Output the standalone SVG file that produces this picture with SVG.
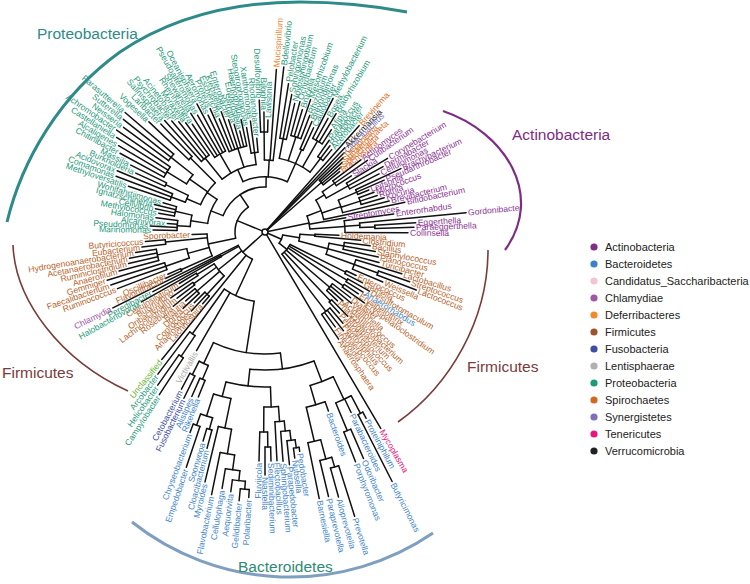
<svg xmlns="http://www.w3.org/2000/svg" width="750" height="584" viewBox="0 0 750 584">
<style>
#labels text{font-family:"Liberation Sans",Arial,sans-serif;font-size:8.6px;dominant-baseline:central}
.f{transform:rotate(180deg);text-anchor:end}
.pr{fill:#1f9a7c}.fi{fill:#b5652c}.ac{fill:#8a3593}.ba{fill:#3f86c8}.de{fill:#ee8733}.sp{fill:#d9702a}
.sy{fill:#7a70b6}.ve{fill:#1a1a1a}.fu{fill:#3a4ba0}.le{fill:#a9a9a9}.te{fill:#e3177f}.ch{fill:#a157a7}.un{fill:#66b52f}
.clade{font-family:"Liberation Sans",Arial,sans-serif;font-size:15.5px}
.leg text{font-family:"Liberation Sans",Arial,sans-serif;font-size:11px;fill:#222}
</style>
<rect width="750" height="584" fill="#fff"/>
<g id="connectors" transform="translate(265 232)" fill="none" stroke="#111" stroke-width="1.5" stroke-linecap="round">
<circle r="3"/>
<path d="M3 0H30" transform="rotate(202.22)"/><circle r="30" pathLength="360" stroke-dasharray="68.195 999" transform="rotate(168.125)"/>
<path d="M30 0H45" transform="rotate(-123.68)"/><circle r="45" pathLength="360" stroke-dasharray="69.84 999" transform="rotate(-158.6)"/>
<path d="M45 0H58" transform="rotate(-158.6)"/><circle r="58" pathLength="360" stroke-dasharray="25.7 999" transform="rotate(-171.45)"/>
<path d="M45 0H55" transform="rotate(-88.76)"/><circle r="55" pathLength="360" stroke-dasharray="47.6 999" transform="rotate(-113.6)"/>
<path d="M58 0H75" transform="rotate(-171.45)"/><circle r="75" pathLength="360" stroke-dasharray="8.875 999" transform="rotate(-175.875)"/>
<path d="M75 0H88" transform="rotate(-175.875)"/><circle r="88" pathLength="360" stroke-dasharray="6.5 999" transform="rotate(-179)"/>
<path d="M88 0H112" transform="rotate(-179)"/><path d="M88 0H115" transform="rotate(-177)"/><path d="M88 0H98" transform="rotate(-175)"/><path d="M88 0H110" transform="rotate(-172.5)"/>
<path d="M75 0H92" transform="rotate(-167)"/><circle r="92" pathLength="360" stroke-dasharray="6 999" transform="rotate(-170)"/>
<path d="M92 0H108" transform="rotate(-170)"/><path d="M92 0H112" transform="rotate(-168)"/><path d="M92 0H114" transform="rotate(-166)"/><path d="M92 0H106" transform="rotate(-164)"/>
<path d="M58 0H70" transform="rotate(-145.75)"/><circle r="70" pathLength="360" stroke-dasharray="21.75 999" transform="rotate(-157)"/>
<path d="M70 0H85" transform="rotate(-157)"/><circle r="85" pathLength="360" stroke-dasharray="5 999" transform="rotate(-159.5)"/>
<path d="M85 0H100" transform="rotate(-159.5)"/><circle r="100" pathLength="360" stroke-dasharray="4 999" transform="rotate(-161.5)"/>
<path d="M100 0H144" transform="rotate(-161.5)"/><path d="M100 0H159" transform="rotate(-159.5)"/><path d="M100 0H160" transform="rotate(-157.5)"/>
<path d="M85 0H110" transform="rotate(-154.5)"/><circle r="110" pathLength="360" stroke-dasharray="2 999" transform="rotate(-155.5)"/>
<path d="M110 0H142" transform="rotate(-155.5)"/><path d="M110 0H150" transform="rotate(-153.5)"/>
<path d="M70 0H92" transform="rotate(-145)"/><circle r="92" pathLength="360" stroke-dasharray="7 999" transform="rotate(-148.5)"/>
<path d="M92 0H115" transform="rotate(-148.5)"/><circle r="115" pathLength="360" stroke-dasharray="6 999" transform="rotate(-151.5)"/>
<path d="M115 0H165" transform="rotate(-151.5)"/><path d="M115 0H170" transform="rotate(-149.5)"/><path d="M115 0H176" transform="rotate(-147.5)"/><path d="M115 0H180" transform="rotate(-145.5)"/>
<path d="M92 0H120" transform="rotate(-141.5)"/><circle r="120" pathLength="360" stroke-dasharray="4 999" transform="rotate(-143.5)"/>
<path d="M120 0H176" transform="rotate(-143.5)"/><path d="M120 0H181" transform="rotate(-141.5)"/><path d="M120 0H184" transform="rotate(-139.5)"/>
<path d="M70 0H105" transform="rotate(-135.25)"/><circle r="105" pathLength="360" stroke-dasharray="2.5 999" transform="rotate(-136.5)"/>
<path d="M105 0H160" transform="rotate(-136.5)"/><path d="M105 0H150" transform="rotate(-134)"/>
<path d="M55 0H68" transform="rotate(-113.6)"/><circle r="68" pathLength="360" stroke-dasharray="31.5 999" transform="rotate(-129)"/>
<path d="M68 0H95" transform="rotate(-129)"/><circle r="95" pathLength="360" stroke-dasharray="6 999" transform="rotate(-132)"/>
<path d="M95 0H150" transform="rotate(-132)"/><path d="M95 0H145" transform="rotate(-130)"/><path d="M95 0H140" transform="rotate(-128)"/><path d="M95 0H135" transform="rotate(-126)"/>
<path d="M68 0H90" transform="rotate(-120)"/><circle r="90" pathLength="360" stroke-dasharray="8 999" transform="rotate(-124)"/>
<path d="M90 0H130" transform="rotate(-124)"/><path d="M90 0H140" transform="rotate(-122)"/><path d="M90 0H135" transform="rotate(-120)"/><path d="M90 0H145" transform="rotate(-118)"/><path d="M90 0H130" transform="rotate(-116)"/>
<path d="M68 0H88" transform="rotate(-108)"/><circle r="88" pathLength="360" stroke-dasharray="12 999" transform="rotate(-114)"/>
<path d="M88 0H135" transform="rotate(-114)"/><path d="M88 0H122" transform="rotate(-112)"/><path d="M88 0H128" transform="rotate(-110)"/><path d="M88 0H118" transform="rotate(-108)"/><path d="M88 0H112" transform="rotate(-106)"/><path d="M88 0H104" transform="rotate(-104)"/><path d="M88 0H115" transform="rotate(-102)"/>
<path d="M68 0H80" transform="rotate(-97.5)"/><circle r="80" pathLength="360" stroke-dasharray="5 999" transform="rotate(-100)"/>
<path d="M80 0H106" transform="rotate(-100)"/><path d="M80 0H112" transform="rotate(-97.5)"/><path d="M80 0H94" transform="rotate(-95)"/>
<path d="M55 0H72" transform="rotate(-86.67)"/><circle r="72" pathLength="360" stroke-dasharray="7 999" transform="rotate(-90.5)"/>
<path d="M72 0H100" transform="rotate(-90.5)"/><circle r="100" pathLength="360" stroke-dasharray="4 999" transform="rotate(-92.5)"/>
<path d="M100 0H132" transform="rotate(-92.5)"/><path d="M100 0H120" transform="rotate(-90.5)"/><path d="M100 0H112" transform="rotate(-88.5)"/>
<path d="M72 0H163" transform="rotate(-86)"/><path d="M72 0H166" transform="rotate(-83.5)"/>
<path d="M55 0H75" transform="rotate(-66)"/><circle r="75" pathLength="360" stroke-dasharray="26 999" transform="rotate(-79)"/>
<path d="M75 0H95" transform="rotate(-79)"/><circle r="95" pathLength="360" stroke-dasharray="4 999" transform="rotate(-81)"/>
<path d="M95 0H150" transform="rotate(-81)"/><path d="M95 0H140" transform="rotate(-79)"/><path d="M95 0H132" transform="rotate(-77)"/>
<path d="M75 0H100" transform="rotate(-72)"/><circle r="100" pathLength="360" stroke-dasharray="6 999" transform="rotate(-75)"/>
<path d="M100 0H135" transform="rotate(-75)"/><path d="M100 0H128" transform="rotate(-73)"/><path d="M100 0H140" transform="rotate(-71)"/><path d="M100 0H125" transform="rotate(-69)"/>
<path d="M75 0H90" transform="rotate(-66)"/><circle r="90" pathLength="360" stroke-dasharray="2 999" transform="rotate(-67)"/>
<path d="M90 0H120" transform="rotate(-67)"/><path d="M90 0H115" transform="rotate(-65)"/>
<path d="M75 0H105" transform="rotate(-60)"/><circle r="105" pathLength="360" stroke-dasharray="6 999" transform="rotate(-63)"/>
<path d="M105 0H150" transform="rotate(-63)"/><path d="M105 0H130" transform="rotate(-61)"/><path d="M105 0H138" transform="rotate(-59)"/><path d="M105 0H122" transform="rotate(-57)"/>
<path d="M75 0H92" transform="rotate(-53)"/><circle r="92" pathLength="360" stroke-dasharray="4 999" transform="rotate(-55)"/>
<path d="M92 0H112" transform="rotate(-55)"/><path d="M92 0H108" transform="rotate(-53)"/><path d="M92 0H106" transform="rotate(-51)"/>
<path d="M30 0H58" transform="rotate(168.125)"/><circle r="58" pathLength="360" stroke-dasharray="22.25 999" transform="rotate(155.75)"/>
<path d="M58 0H92" transform="rotate(155.75)"/><circle r="92" pathLength="360" stroke-dasharray="1.5 999" transform="rotate(155)"/>
<path d="M92 0H110" transform="rotate(155)"/><path d="M92 0H106" transform="rotate(156.5)"/>
<path d="M58 0H80" transform="rotate(164.5)"/><circle r="80" pathLength="360" stroke-dasharray="7 999" transform="rotate(161)"/>
<path d="M80 0H105" transform="rotate(161)"/><circle r="105" pathLength="360" stroke-dasharray="4 999" transform="rotate(159)"/>
<path d="M105 0H158" transform="rotate(159)"/><path d="M105 0H163" transform="rotate(161)"/><path d="M105 0H165" transform="rotate(163)"/>
<path d="M80 0H110" transform="rotate(168)"/><circle r="110" pathLength="360" stroke-dasharray="6 999" transform="rotate(165)"/>
<path d="M110 0H151" transform="rotate(165)"/><path d="M110 0H140" transform="rotate(167)"/><path d="M110 0H138" transform="rotate(169)"/><path d="M110 0H131" transform="rotate(171)"/>
<path d="M58 0H100" transform="rotate(174.25)"/><circle r="100" pathLength="360" stroke-dasharray="2.5 999" transform="rotate(173)"/>
<path d="M100 0H124" transform="rotate(173)"/><path d="M100 0H120" transform="rotate(175.5)"/>
<path d="M58 0H73" transform="rotate(178)"/>
<path d="M3 0H142" transform="rotate(-48.5)"/><path d="M3 0H116" transform="rotate(-46.5)"/><path d="M3 0H112" transform="rotate(-45)"/>
<path d="M3 0H75" transform="rotate(-41.25)"/><circle r="75" pathLength="360" stroke-dasharray="4.5 999" transform="rotate(-43.5)"/>
<path d="M75 0H108" transform="rotate(-43.5)"/><path d="M75 0H104" transform="rotate(-42)"/><path d="M75 0H100" transform="rotate(-40.5)"/><path d="M75 0H96" transform="rotate(-39)"/>
<path d="M3 0H45" transform="rotate(-11.59)"/><circle r="45" pathLength="360" stroke-dasharray="16.905 999" transform="rotate(-20.83)"/>
<path d="M45 0H60" transform="rotate(-20.83)"/><circle r="60" pathLength="360" stroke-dasharray="20 999" transform="rotate(-32)"/>
<path d="M60 0H70" transform="rotate(-32)"/><circle r="70" pathLength="360" stroke-dasharray="6 999" transform="rotate(-35)"/>
<path d="M70 0H85" transform="rotate(-35)"/><circle r="85" pathLength="360" stroke-dasharray="4 999" transform="rotate(-37)"/>
<path d="M85 0H120" transform="rotate(-37)"/><path d="M85 0H125" transform="rotate(-35)"/><path d="M85 0H103" transform="rotate(-33)"/>
<path d="M70 0H95" transform="rotate(-29)"/><circle r="95" pathLength="360" stroke-dasharray="4 999" transform="rotate(-31)"/>
<path d="M95 0H143" transform="rotate(-31)"/><path d="M95 0H135" transform="rotate(-29)"/><path d="M95 0H128" transform="rotate(-27)"/>
<path d="M60 0H80" transform="rotate(-18.5)"/><circle r="80" pathLength="360" stroke-dasharray="9.5 999" transform="rotate(-23.5)"/>
<path d="M80 0H100" transform="rotate(-23.5)"/><circle r="100" pathLength="360" stroke-dasharray="3 999" transform="rotate(-25)"/>
<path d="M100 0H150" transform="rotate(-25)"/><path d="M100 0H130" transform="rotate(-23.5)"/><path d="M100 0H112" transform="rotate(-22)"/>
<path d="M80 0H100" transform="rotate(-18)"/><circle r="100" pathLength="360" stroke-dasharray="4 999" transform="rotate(-20)"/>
<path d="M100 0H116" transform="rotate(-20)"/><path d="M100 0H118" transform="rotate(-18)"/><path d="M100 0H124" transform="rotate(-16)"/>
<path d="M80 0H128" transform="rotate(-14)"/><path d="M60 0H143" transform="rotate(-12)"/><path d="M45 0H82" transform="rotate(-10)"/>
<path d="M45 0H80" transform="rotate(-3.925)"/><circle r="80" pathLength="360" stroke-dasharray="8.3 999" transform="rotate(-8)"/>
<path d="M80 0H130" transform="rotate(-8)"/>
<path d="M80 0H95" transform="rotate(-4.075)"/><circle r="95" pathLength="360" stroke-dasharray="2.85 999" transform="rotate(-5.5)"/>
<path d="M95 0H202" transform="rotate(-5.5)"/>
<path d="M95 0H110" transform="rotate(-2.65)"/><circle r="110" pathLength="360" stroke-dasharray="1.7 999" transform="rotate(-3.5)"/>
<path d="M110 0H151" transform="rotate(-3.5)"/><path d="M110 0H149" transform="rotate(-1.8)"/>
<path d="M80 0H143" transform="rotate(0.3)"/>
<path d="M3 0H18" transform="rotate(23.94)"/><circle r="18" pathLength="360" stroke-dasharray="29.125 999" transform="rotate(9.375)"/>
<path d="M18 0H35" transform="rotate(9.375)"/><circle r="35" pathLength="360" stroke-dasharray="11.25 999" transform="rotate(3.75)"/>
<path d="M35 0H50" transform="rotate(3.75)"/><circle r="50" pathLength="360" stroke-dasharray="2.5 999" transform="rotate(2.5)"/>
<path d="M50 0H74" transform="rotate(2.5)"/><path d="M50 0H96" transform="rotate(5)"/>
<path d="M35 0H65" transform="rotate(15)"/><circle r="65" pathLength="360" stroke-dasharray="10 999" transform="rotate(10)"/>
<path d="M65 0H80" transform="rotate(10)"/><circle r="80" pathLength="360" stroke-dasharray="5 999" transform="rotate(7.5)"/>
<path d="M80 0H106" transform="rotate(7.5)"/><path d="M80 0H112" transform="rotate(10)"/><path d="M80 0H116" transform="rotate(12.5)"/>
<path d="M65 0H118" transform="rotate(15)"/>
<path d="M65 0H95" transform="rotate(20)"/><circle r="95" pathLength="360" stroke-dasharray="6 999" transform="rotate(17)"/>
<path d="M95 0H143" transform="rotate(17)"/>
<path d="M95 0H120" transform="rotate(20)"/><circle r="120" pathLength="360" stroke-dasharray="2 999" transform="rotate(19)"/>
<path d="M120 0H153" transform="rotate(19)"/><path d="M120 0H162" transform="rotate(21)"/>
<path d="M95 0H128" transform="rotate(23)"/>
<path d="M18 0H28" transform="rotate(38.5)"/><circle r="28" pathLength="360" stroke-dasharray="26 999" transform="rotate(26.5)"/>
<path d="M28 0H90" transform="rotate(26.5)"/><circle r="90" pathLength="360" stroke-dasharray="2 999" transform="rotate(25.5)"/>
<path d="M90 0H101" transform="rotate(25.5)"/><path d="M90 0H110" transform="rotate(27.5)"/>
<path d="M28 0H95" transform="rotate(30.5)"/><circle r="95" pathLength="360" stroke-dasharray="2 999" transform="rotate(29.5)"/>
<path d="M95 0H120" transform="rotate(29.5)"/><path d="M95 0H115" transform="rotate(31.5)"/>
<path d="M28 0H95" transform="rotate(34.5)"/><circle r="95" pathLength="360" stroke-dasharray="2 999" transform="rotate(33.5)"/>
<path d="M95 0H112" transform="rotate(33.5)"/><path d="M95 0H122" transform="rotate(35.5)"/>
<path d="M28 0H85" transform="rotate(40.5)"/><circle r="85" pathLength="360" stroke-dasharray="6 999" transform="rotate(37.5)"/>
<path d="M85 0H108" transform="rotate(37.5)"/><path d="M85 0H112" transform="rotate(39.5)"/><path d="M85 0H104" transform="rotate(41.5)"/><path d="M85 0H100" transform="rotate(43.5)"/>
<path d="M28 0H95" transform="rotate(46.5)"/><circle r="95" pathLength="360" stroke-dasharray="2 999" transform="rotate(45.5)"/>
<path d="M95 0H118" transform="rotate(45.5)"/><path d="M95 0H110" transform="rotate(47.5)"/>
<path d="M28 0H100" transform="rotate(52.5)"/><circle r="100" pathLength="360" stroke-dasharray="6 999" transform="rotate(49.5)"/>
<path d="M100 0H120" transform="rotate(49.5)"/><path d="M100 0H126" transform="rotate(51.5)"/><path d="M100 0H118" transform="rotate(53.5)"/><path d="M100 0H130" transform="rotate(55.5)"/>
<path d="M3 0H228" transform="rotate(59.5)"/>
<path d="M3 0H30" transform="rotate(137.9)"/><circle r="30" pathLength="360" stroke-dasharray="38.71 999" transform="rotate(114.79)"/>
<path d="M30 0H70" transform="rotate(114.79)"/><circle r="70" pathLength="360" stroke-dasharray="26.63 999" transform="rotate(98.87)"/>
<path d="M70 0H122" transform="rotate(98.87)"/><circle r="122" pathLength="360" stroke-dasharray="32.26 999" transform="rotate(82.74)"/>
<path d="M122 0H138" transform="rotate(82.74)"/><circle r="138" pathLength="360" stroke-dasharray="27.1 999" transform="rotate(69.19)"/>
<path d="M138 0H155" transform="rotate(96.29)"/><circle r="155" pathLength="360" stroke-dasharray="16.61 999" transform="rotate(87.98)"/>
<path d="M155 0H170" transform="rotate(104.59)"/><circle r="170" pathLength="360" stroke-dasharray="6.06 999" transform="rotate(101.5625)"/>
<path d="M170 0H193" transform="rotate(107.625)"/><circle r="193" pathLength="360" stroke-dasharray="3.75 999" transform="rotate(105.75)"/>
<path d="M193 0H205" transform="rotate(109.5)"/><circle r="205" pathLength="360" stroke-dasharray="2 999" transform="rotate(108.5)"/>
<path d="M205 0H214" transform="rotate(110.5)"/><path d="M205 0H248" transform="rotate(108.5)"/>
<path d="M193 0H205" transform="rotate(105.75)"/><circle r="205" pathLength="360" stroke-dasharray="1.5 999" transform="rotate(105)"/>
<path d="M205 0H218" transform="rotate(106.5)"/><path d="M205 0H224" transform="rotate(105)"/>
<path d="M170 0H200" transform="rotate(101.5625)"/><circle r="200" pathLength="360" stroke-dasharray="3.875 999" transform="rotate(99.625)"/>
<path d="M200 0H257" transform="rotate(103.5)"/>
<path d="M200 0H225" transform="rotate(99.625)"/><circle r="225" pathLength="360" stroke-dasharray="3.75 999" transform="rotate(97.75)"/>
<path d="M225 0H268" transform="rotate(101.5)"/>
<path d="M225 0H240" transform="rotate(97.75)"/><circle r="240" pathLength="360" stroke-dasharray="3.5 999" transform="rotate(96)"/>
<path d="M240 0H260" transform="rotate(99.5)"/>
<path d="M240 0H250" transform="rotate(96)"/><circle r="250" pathLength="360" stroke-dasharray="3 999" transform="rotate(94.5)"/>
<path d="M250 0H262" transform="rotate(97.5)"/>
<path d="M250 0H258" transform="rotate(94.5)"/><circle r="258" pathLength="360" stroke-dasharray="2 999" transform="rotate(93.5)"/>
<path d="M258 0H270" transform="rotate(95.5)"/><path d="M258 0H266" transform="rotate(93.5)"/>
<path d="M155 0H175" transform="rotate(87.98)"/><circle r="175" pathLength="360" stroke-dasharray="4.781 999" transform="rotate(85.594)"/>
<path d="M175 0H200" transform="rotate(90.375)"/><circle r="200" pathLength="360" stroke-dasharray="2.25 999" transform="rotate(89.25)"/>
<path d="M200 0H229" transform="rotate(91.5)"/>
<path d="M200 0H215" transform="rotate(89.25)"/><circle r="215" pathLength="360" stroke-dasharray="1.5 999" transform="rotate(88.5)"/>
<path d="M215 0H243" transform="rotate(90)"/><path d="M215 0H229" transform="rotate(88.5)"/>
<path d="M175 0H190" transform="rotate(85.594)"/><circle r="190" pathLength="360" stroke-dasharray="2.8125 999" transform="rotate(84.1875)"/>
<path d="M190 0H229" transform="rotate(87)"/>
<path d="M190 0H200" transform="rotate(84.1875)"/><circle r="200" pathLength="360" stroke-dasharray="2.625 999" transform="rotate(82.875)"/>
<path d="M200 0H230" transform="rotate(85.5)"/>
<path d="M200 0H210" transform="rotate(82.875)"/><circle r="210" pathLength="360" stroke-dasharray="2.25 999" transform="rotate(81.75)"/>
<path d="M210 0H234" transform="rotate(84)"/>
<path d="M210 0H218" transform="rotate(81.75)"/><circle r="218" pathLength="360" stroke-dasharray="1.5 999" transform="rotate(81)"/>
<path d="M218 0H228" transform="rotate(82.5)"/><path d="M218 0H222" transform="rotate(81)"/>
<path d="M138 0H160" transform="rotate(69.19)"/><circle r="160" pathLength="360" stroke-dasharray="8.875 999" transform="rotate(64.75)"/>
<path d="M160 0H180" transform="rotate(73.625)"/><circle r="180" pathLength="360" stroke-dasharray="6.25 999" transform="rotate(70.5)"/>
<path d="M180 0H190" transform="rotate(70.5)"/>
<path d="M180 0H215" transform="rotate(76.75)"/><circle r="215" pathLength="360" stroke-dasharray="3.5 999" transform="rotate(75)"/>
<path d="M215 0H272" transform="rotate(78.5)"/>
<path d="M215 0H235" transform="rotate(75)"/><circle r="235" pathLength="360" stroke-dasharray="3 999" transform="rotate(73.5)"/>
<path d="M235 0H272" transform="rotate(76.5)"/>
<path d="M235 0H245" transform="rotate(73.5)"/><circle r="245" pathLength="360" stroke-dasharray="2 999" transform="rotate(72.5)"/>
<path d="M245 0H275" transform="rotate(74.5)"/><path d="M245 0H298" transform="rotate(72.5)"/>
<path d="M160 0H185" transform="rotate(64.75)"/><circle r="185" pathLength="360" stroke-dasharray="5.25 999" transform="rotate(62.25)"/>
<path d="M185 0H215" transform="rotate(67.5)"/><circle r="215" pathLength="360" stroke-dasharray="2 999" transform="rotate(66.5)"/>
<path d="M215 0H247" transform="rotate(68.5)"/><path d="M215 0H247" transform="rotate(66.5)"/>
<path d="M185 0H200" transform="rotate(64.5)"/>
<path d="M185 0H205" transform="rotate(62.25)"/><circle r="205" pathLength="360" stroke-dasharray="1.5 999" transform="rotate(61.5)"/>
<path d="M205 0H280" transform="rotate(63)"/><path d="M205 0H212" transform="rotate(61.5)"/>
<path d="M122 0H145" transform="rotate(115)"/><circle r="145" pathLength="360" stroke-dasharray="4 999" transform="rotate(113)"/>
<path d="M145 0H160" transform="rotate(113)"/><circle r="160" pathLength="360" stroke-dasharray="2 999" transform="rotate(112)"/>
<path d="M160 0H178" transform="rotate(112)"/><path d="M160 0H180" transform="rotate(114)"/>
<path d="M145 0H160" transform="rotate(117)"/><circle r="160" pathLength="360" stroke-dasharray="2 999" transform="rotate(116)"/>
<path d="M160 0H185" transform="rotate(116)"/><path d="M160 0H178" transform="rotate(118)"/>
<path d="M70 0H137" transform="rotate(120)"/>
<path d="M70 0H125" transform="rotate(125.5)"/><circle r="125" pathLength="360" stroke-dasharray="3 999" transform="rotate(124)"/>
<path d="M125 0H150" transform="rotate(124)"/><circle r="150" pathLength="360" stroke-dasharray="2 999" transform="rotate(123)"/>
<path d="M150 0H194" transform="rotate(123)"/><path d="M150 0H187" transform="rotate(125)"/>
<path d="M125 0H178" transform="rotate(127)"/>
<path d="M30 0H164" transform="rotate(129)"/>
<path d="M30 0H60" transform="rotate(141)"/><circle r="60" pathLength="360" stroke-dasharray="15 999" transform="rotate(133)"/>
<path d="M60 0H85" transform="rotate(133)"/><circle r="85" pathLength="360" stroke-dasharray="4 999" transform="rotate(131)"/>
<path d="M85 0H95" transform="rotate(131)"/><path d="M85 0H108" transform="rotate(133)"/><path d="M85 0H100" transform="rotate(135)"/>
<path d="M60 0H90" transform="rotate(139)"/><circle r="90" pathLength="360" stroke-dasharray="4 999" transform="rotate(137)"/>
<path d="M90 0H112" transform="rotate(137)"/><path d="M90 0H105" transform="rotate(139)"/><path d="M90 0H118" transform="rotate(141)"/>
<path d="M60 0H88" transform="rotate(144)"/><circle r="88" pathLength="360" stroke-dasharray="2 999" transform="rotate(143)"/>
<path d="M88 0H110" transform="rotate(143)"/><path d="M88 0H115" transform="rotate(145)"/>
<path d="M60 0H80" transform="rotate(148)"/><circle r="80" pathLength="360" stroke-dasharray="2 999" transform="rotate(147)"/>
<path d="M80 0H108" transform="rotate(147)"/><path d="M80 0H100" transform="rotate(149)"/>
<path d="M30 0H50" transform="rotate(151.25)"/><circle r="50" pathLength="360" stroke-dasharray="1.5 999" transform="rotate(150.5)"/>
<path d="M50 0H142" transform="rotate(150.5)"/><path d="M50 0H127" transform="rotate(152)"/>
<path d="M30 0H170" transform="rotate(153.5)"/>
</g>
<g id="labels" transform="translate(265 232)">
<g id="n-Marinomonas" transform="rotate(-179)"><text class="f pr" x="-114">Marinomonas</text></g>
<g id="n-Pseudomonas" transform="rotate(-177)"><text class="f pr" x="-117">Pseudomonas</text></g>
<g id="n-Alcanivorax" transform="rotate(-175)"><text class="f pr" x="-100">Alcanivorax</text></g>
<g id="n-Halomonas" transform="rotate(-172.5)"><text class="f pr" x="-112">Halomonas</text></g>
<g id="n-Methylococcus" transform="rotate(-170)"><text class="f pr" x="-110">Methylococcus</text></g>
<g id="n-Cellvibrio" transform="rotate(-168)"><text class="f pr" x="-114">Cellvibrio</text></g>
<g id="n-Ignatzschineria" transform="rotate(-166)"><text class="f pr" x="-116">Ignatzschineria</text></g>
<g id="n-Wohlfahrtiimonas" transform="rotate(-164)"><text class="f pr" x="-108">Wohlfahrtiimonas</text></g>
<g id="n-Methyloversatilis" transform="rotate(-161.5)"><text class="f pr" x="-146">Methyloversatilis</text></g>
<g id="n-Comamonas" transform="rotate(-159.5)"><text class="f pr" x="-161">Comamonas</text></g>
<g id="n-Acidovorax" transform="rotate(-157.5)"><text class="f pr" x="-162">Acidovorax</text></g>
<g id="n-Burkholderia" transform="rotate(-155.5)"><text class="f pr" x="-144">Burkholderia</text></g>
<g id="n-Massilia" transform="rotate(-153.5)"><text class="f pr" x="-152">Massilia</text></g>
<g id="n-Chitinibacter" transform="rotate(-151.5)"><text class="f pr" x="-167">Chitinibacter</text></g>
<g id="n-Alcaligenes" transform="rotate(-149.5)"><text class="f pr" x="-172">Alcaligenes</text></g>
<g id="n-Castellaniella" transform="rotate(-147.5)"><text class="f pr" x="-178">Castellaniella</text></g>
<g id="n-Achromobacter" transform="rotate(-145.5)"><text class="f pr" x="-182">Achromobacter</text></g>
<g id="n-Neisseria" transform="rotate(-143.5)"><text class="f pr" x="-178">Neisseria</text></g>
<g id="n-Sutterella" transform="rotate(-141.5)"><text class="f pr" x="-183">Sutterella</text></g>
<g id="n-Parasutterella" transform="rotate(-139.5)"><text class="f pr" x="-186">Parasutterella</text></g>
<g id="n-Vogesella" transform="rotate(-136.5)"><text class="f pr" x="-162">Vogesella</text></g>
<g id="n-Laribacter" transform="rotate(-134)"><text class="f pr" x="-152">Laribacter</text></g>
<g id="n-Salinisphaera" transform="rotate(-132)"><text class="f pr" x="-152">Salinisphaera</text></g>
<g id="n-Psychrobacter" transform="rotate(-130)"><text class="f pr" x="-147">Psychrobacter</text></g>
<g id="n-Acinetobacter" transform="rotate(-128)"><text class="f pr" x="-142">Acinetobacter</text></g>
<g id="n-Moraxella" transform="rotate(-126)"><text class="f pr" x="-137">Moraxella</text></g>
<g id="n-Rheinheimera" transform="rotate(-124)"><text class="f pr" x="-132">Rheinheimera</text></g>
<g id="n-Shewanella" transform="rotate(-122)"><text class="f pr" x="-142">Shewanella</text></g>
<g id="n-Pseudoalteromonas" transform="rotate(-120)"><text class="f pr" x="-137">Pseudoalteromonas</text></g>
<g id="n-Oceanisphaera" transform="rotate(-118)"><text class="f pr" x="-147">Oceanisphaera</text></g>
<g id="n-Aeromonas" transform="rotate(-116)"><text class="f pr" x="-132">Aeromonas</text></g>
<g id="n-Proteus" transform="rotate(-114)"><text class="f pr" x="-137">Proteus</text></g>
<g id="n-Escherichia" transform="rotate(-112)"><text class="f pr" x="-124">Escherichia</text></g>
<g id="n-Klebsiella" transform="rotate(-110)"><text class="f pr" x="-130">Klebsiella</text></g>
<g id="n-Enterobacter" transform="rotate(-108)"><text class="f pr" x="-120">Enterobacter</text></g>
<g id="n-Serratia" transform="rotate(-106)"><text class="f pr" x="-114">Serratia</text></g>
<g id="n-Edwardsiella" transform="rotate(-104)"><text class="f pr" x="-106">Edwardsiella</text></g>
<g id="n-Haemophilus" transform="rotate(-102)"><text class="f pr" x="-117">Haemophilus</text></g>
<g id="n-Stenotrophomonas" transform="rotate(-100)"><text class="f pr" x="-108">Stenotrophomonas</text></g>
<g id="n-Xanthomonas" transform="rotate(-97.5)"><text class="f pr" x="-114">Xanthomonas</text></g>
<g id="n-Rhodanobacter" transform="rotate(-95)"><text class="f pr" x="-96">Rhodanobacter</text></g>
<g id="n-Desulfovibrio" transform="rotate(-92.5)"><text class="f pr" x="-134">Desulfovibrio</text></g>
<g id="n-Bilophila" transform="rotate(-90.5)"><text class="f pr" x="-122">Bilophila</text></g>
<g id="n-Lawsonia" transform="rotate(-88.5)"><text class="pr" x="114">Lawsonia</text></g>
<g id="n-Mucispirillum" transform="rotate(-86)"><text class="de" x="165">Mucispirillum</text></g>
<g id="n-Bdellovibrio" transform="rotate(-83.5)"><text class="pr" x="168">Bdellovibrio</text></g>
<g id="n-Pelobacter" transform="rotate(-81)"><text class="pr" x="152">Pelobacter</text></g>
<g id="n-Sphingomonas" transform="rotate(-79)"><text class="pr" x="142">Sphingomonas</text></g>
<g id="n-Novosphingobium" transform="rotate(-77)"><text class="pr" x="134">Novosphingobium</text></g>
<g id="n-Ochrobactrum" transform="rotate(-75)"><text class="pr" x="137">Ochrobactrum</text></g>
<g id="n-Brucella" transform="rotate(-73)"><text class="pr" x="130">Brucella</text></g>
<g id="n-Mesorhizobium" transform="rotate(-71)"><text class="pr" x="142">Mesorhizobium</text></g>
<g id="n-Rhizobium" transform="rotate(-69)"><text class="pr" x="127">Rhizobium</text></g>
<g id="n-Brevundimonas" transform="rotate(-67)"><text class="pr" x="122">Brevundimonas</text></g>
<g id="n-Caulobacter" transform="rotate(-65)"><text class="pr" x="117">Caulobacter</text></g>
<g id="n-Methylobacterium" transform="rotate(-63)"><text class="pr" x="152">Methylobacterium</text></g>
<g id="n-Bosea" transform="rotate(-61)"><text class="pr" x="132">Bosea</text></g>
<g id="n-Bradyrhizobium" transform="rotate(-59)"><text class="pr" x="140">Bradyrhizobium</text></g>
<g id="n-Afipia" transform="rotate(-57)"><text class="pr" x="124">Afipia</text></g>
<g id="n-Paracoccus" transform="rotate(-55)"><text class="pr" x="114">Paracoccus</text></g>
<g id="n-Rhodobacter" transform="rotate(-53)"><text class="pr" x="110">Rhodobacter</text></g>
<g id="n-Acetobacter" transform="rotate(-51)"><text class="pr" x="108">Acetobacter</text></g>
<g id="n-Brevinema" transform="rotate(-48.5)"><text class="sp" x="144">Brevinema</text></g>
<g id="n-Akkermansia" transform="rotate(-46.5)"><text class="ve" x="118">Akkermansia</text></g>
<g id="n-Cloacibacillus" transform="rotate(-45)"><text class="sy" x="114">Cloacibacillus</text></g>
<g id="n-Treponema" transform="rotate(-43.5)"><text class="sp" x="110">Treponema</text></g>
<g id="n-Sphaerochaeta" transform="rotate(-42)"><text class="sp" x="106">Sphaerochaeta</text></g>
<g id="n-Spirochaeta" transform="rotate(-40.5)"><text class="sp" x="102">Spirochaeta</text></g>
<g id="n-Brachyspira" transform="rotate(-39)"><text class="sp" x="98">Brachyspira</text></g>
<g id="n-Actinomyces" transform="rotate(-37)"><text class="ac" x="122">Actinomyces</text></g>
<g id="n-Cutibacterium" transform="rotate(-35)"><text class="ac" x="127">Cutibacterium</text></g>
<g id="n-Slackia" transform="rotate(-33)"><text class="ac" x="105">Slackia</text></g>
<g id="n-Corynebacterium" transform="rotate(-31)"><text class="ac" x="145">Corynebacterium</text></g>
<g id="n-Dermabacter" transform="rotate(-29)"><text class="ac" x="137">Dermabacter</text></g>
<g id="n-Cellulomonas" transform="rotate(-27)"><text class="ac" x="130">Cellulomonas</text></g>
<g id="n-Brachybacterium" transform="rotate(-25)"><text class="ac" x="152">Brachybacterium</text></g>
<g id="n-Pseudarthrobacter" transform="rotate(-23.5)"><text class="ac" x="132">Pseudarthrobacter</text></g>
<g id="n-Leifsonia" transform="rotate(-22)"><text class="ac" x="114">Leifsonia</text></g>
<g id="n-Micrococcus" transform="rotate(-20)"><text class="ac" x="118">Micrococcus</text></g>
<g id="n-Rothia" transform="rotate(-18)"><text class="ac" x="120">Rothia</text></g>
<g id="n-Kocuria" transform="rotate(-16)"><text class="ac" x="126">Kocuria</text></g>
<g id="n-Brevibacterium" transform="rotate(-14)"><text class="ac" x="130">Brevibacterium</text></g>
<g id="n-Bifidobacterium" transform="rotate(-12)"><text class="ac" x="145">Bifidobacterium</text></g>
<g id="n-Streptomyces" transform="rotate(-10)"><text class="ac" x="84">Streptomyces</text></g>
<g id="n-Enterorhabdus" transform="rotate(-8)"><text class="ac" x="132">Enterorhabdus</text></g>
<g id="n-Gordonibacter" transform="rotate(-5.5)"><text class="ac" x="204">Gordonibacter</text></g>
<g id="n-Eggerthella" transform="rotate(-3.5)"><text class="ac" x="153">Eggerthella</text></g>
<g id="n-Paraeggerthella" transform="rotate(-1.8)"><text class="ac" x="151">Paraeggerthella</text></g>
<g id="n-Collinsella" transform="rotate(0.3)"><text class="ac" x="145">Collinsella</text></g>
<g id="n-Holdemania" transform="rotate(2.5)"><text class="fi" x="76">Holdemania</text></g>
<g id="n-Clostridium" transform="rotate(5)"><text class="fi" x="98">Clostridium</text></g>
<g id="n-Bacillus" transform="rotate(7.5)"><text class="fi" x="108">Bacillus</text></g>
<g id="n-Staphylococcus" transform="rotate(10)"><text class="fi" x="114">Staphylococcus</text></g>
<g id="n-Planococcus" transform="rotate(12.5)"><text class="fi" x="118">Planococcus</text></g>
<g id="n-Turicibacter" transform="rotate(15)"><text class="fi" x="120">Turicibacter</text></g>
<g id="n-Lactobacillus" transform="rotate(17)"><text class="fi" x="145">Lactobacillus</text></g>
<g id="n-Streptococcus" transform="rotate(19)"><text class="fi" x="155">Streptococcus</text></g>
<g id="n-Lactococcus" transform="rotate(21)"><text class="fi" x="164">Lactococcus</text></g>
<g id="n-Weissella" transform="rotate(23)"><text class="fi" x="130">Weissella</text></g>
<g id="n-Enterococcus" transform="rotate(25.5)"><text class="fi" x="103">Enterococcus</text></g>
<g id="n-Gemella" transform="rotate(27.5)"><text class="fi" x="112">Gemella</text></g>
<g id="n-Desulfotomaculum" transform="rotate(29.5)"><text class="fi" x="122">Desulfotomaculum</text></g>
<g id="n-Anaerorhabdus" transform="rotate(31.5)"><text class="ba" x="117">Anaerorhabdus</text></g>
<g id="n-Erysipelothrix" transform="rotate(33.5)"><text class="fi" x="114">Erysipelothrix</text></g>
<g id="n-Erysipelatoclostridium" transform="rotate(35.5)"><text class="fi" x="124">Erysipelatoclostridium</text></g>
<g id="n-Dialister" transform="rotate(37.5)"><text class="fi" x="110">Dialister</text></g>
<g id="n-Veillonella" transform="rotate(39.5)"><text class="fi" x="114">Veillonella</text></g>
<g id="n-Acidaminococcus" transform="rotate(41.5)"><text class="fi" x="106">Acidaminococcus</text></g>
<g id="n-Phascolarctobacterium" transform="rotate(43.5)"><text class="fi" x="102">Phascolarctobacterium</text></g>
<g id="n-Mogibacterium" transform="rotate(45.5)"><text class="fi" x="120">Mogibacterium</text></g>
<g id="n-Peptostreptococcus" transform="rotate(47.5)"><text class="fi" x="112">Peptostreptococcus</text></g>
<g id="n-Peptoniphilus" transform="rotate(49.5)"><text class="fi" x="122">Peptoniphilus</text></g>
<g id="n-Anaerococcus" transform="rotate(51.5)"><text class="fi" x="128">Anaerococcus</text></g>
<g id="n-Finegoldia" transform="rotate(53.5)"><text class="fi" x="120">Finegoldia</text></g>
<g id="n-Anaerosphaera" transform="rotate(55.5)"><text class="fi" x="132">Anaerosphaera</text></g>
<g id="n-Mycoplasma" transform="rotate(59.5)"><text class="te" x="230">Mycoplasma</text></g>
<g id="n-Proteiniphilum" transform="rotate(61.5)"><text class="ba" x="214">Proteiniphilum</text></g>
<g id="n-Butyricimonas" transform="rotate(63)"><text class="ba" x="282">Butyricimonas</text></g>
<g id="n-Parabacteroides" transform="rotate(64.5)"><text class="ba" x="202">Parabacteroides</text></g>
<g id="n-Odoribacter" transform="rotate(66.5)"><text class="ba" x="249">Odoribacter</text></g>
<g id="n-Porphyromonas" transform="rotate(68.5)"><text class="ba" x="249">Porphyromonas</text></g>
<g id="n-Bacteroides" transform="rotate(70.5)"><text class="ba" x="192">Bacteroides</text></g>
<g id="n-Prevotella" transform="rotate(72.5)"><text class="ba" x="300">Prevotella</text></g>
<g id="n-Alloprevotella" transform="rotate(74.5)"><text class="ba" x="277">Alloprevotella</text></g>
<g id="n-Paraprevotella" transform="rotate(76.5)"><text class="ba" x="274">Paraprevotella</text></g>
<g id="n-Barnesiella" transform="rotate(78.5)"><text class="ba" x="274">Barnesiella</text></g>
<g id="n-Pedobacter" transform="rotate(81)"><text class="ba" x="224">Pedobacter</text></g>
<g id="n-Nubsella" transform="rotate(82.5)"><text class="ba" x="230">Nubsella</text></g>
<g id="n-Parapedobacter" transform="rotate(84)"><text class="ba" x="236">Parapedobacter</text></g>
<g id="n-Sphingobacterium" transform="rotate(85.5)"><text class="ba" x="232">Sphingobacterium</text></g>
<g id="n-Flectobacillus" transform="rotate(87)"><text class="ba" x="231">Flectobacillus</text></g>
<g id="n-Sediminibacterium" transform="rotate(88.5)"><text class="ba" x="231">Sediminibacterium</text></g>
<g id="n-Niastella" transform="rotate(90)"><text class="ba" x="245">Niastella</text></g>
<g id="n-Fluviicola" transform="rotate(91.5)"><text class="f ba" x="-231">Fluviicola</text></g>
<g id="n-Polaribacter" transform="rotate(93.5)"><text class="f ba" x="-268">Polaribacter</text></g>
<g id="n-Gelidibacter" transform="rotate(95.5)"><text class="f ba" x="-272">Gelidibacter</text></g>
<g id="n-Aequorivita" transform="rotate(97.5)"><text class="f ba" x="-264">Aequorivita</text></g>
<g id="n-Cellulophaga" transform="rotate(99.5)"><text class="f ba" x="-262">Cellulophaga</text></g>
<g id="n-Flavobacterium" transform="rotate(101.5)"><text class="f ba" x="-270">Flavobacterium</text></g>
<g id="n-Myroides" transform="rotate(103.5)"><text class="f ba" x="-259">Myroides</text></g>
<g id="n-Cloacibacterium" transform="rotate(105)"><text class="f ba" x="-226">Cloacibacterium</text></g>
<g id="n-Soonwooa" transform="rotate(106.5)"><text class="f ba" x="-220">Soonwooa</text></g>
<g id="n-Empedobacter" transform="rotate(108.5)"><text class="f ba" x="-250">Empedobacter</text></g>
<g id="n-Chryseobacterium" transform="rotate(110.5)"><text class="f ba" x="-216">Chryseobacterium</text></g>
<g id="n-Rikenella" transform="rotate(112)"><text class="f ba" x="-180">Rikenella</text></g>
<g id="n-Alistipes" transform="rotate(114)"><text class="f ba" x="-182">Alistipes</text></g>
<g id="n-Fusobacterium" transform="rotate(116)"><text class="f fu" x="-187">Fusobacterium</text></g>
<g id="n-Cetobacterium" transform="rotate(118)"><text class="f fu" x="-180">Cetobacterium</text></g>
<g id="n-Victivallis" transform="rotate(120)"><text class="f le" x="-139">Victivallis</text></g>
<g id="n-Campylobacter" transform="rotate(123)"><text class="f pr" x="-196">Campylobacter</text></g>
<g id="n-Helicobacter" transform="rotate(125)"><text class="f pr" x="-189">Helicobacter</text></g>
<g id="n-Arcobacter" transform="rotate(127)"><text class="f pr" x="-180">Arcobacter</text></g>
<g id="n-Unclassified" transform="rotate(129)"><text class="f un" x="-166">Unclassified</text></g>
<g id="n-Lachnospira" transform="rotate(131)"><text class="f fi" x="-97">Lachnospira</text></g>
<g id="n-Anaerostipes" transform="rotate(133)"><text class="f fi" x="-110">Anaerostipes</text></g>
<g id="n-Coprococcus" transform="rotate(135)"><text class="f fi" x="-102">Coprococcus</text></g>
<g id="n-Dorea" transform="rotate(137)"><text class="f fi" x="-114">Dorea</text></g>
<g id="n-Blautia" transform="rotate(139)"><text class="f fi" x="-107">Blautia</text></g>
<g id="n-Roseburia" transform="rotate(141)"><text class="f fi" x="-120">Roseburia</text></g>
<g id="n-Lachnoclostridium" transform="rotate(143)"><text class="f fi" x="-112">Lachnoclostridium</text></g>
<g id="n-Oribacterium" transform="rotate(145)"><text class="f fi" x="-117">Oribacterium</text></g>
<g id="n-Butyrivibrio" transform="rotate(147)"><text class="f fi" x="-110">Butyrivibrio</text></g>
<g id="n-Cellulosilyticum" transform="rotate(149)"><text class="f fi" x="-102">Cellulosilyticum</text></g>
<g id="n-Halobacteriovorax" transform="rotate(150.5)"><text class="f pr" x="-144">Halobacteriovorax</text></g>
<g id="n-Peredibacter" transform="rotate(152)"><text class="f pr" x="-129">Peredibacter</text></g>
<g id="n-Chlamydia" transform="rotate(153.5)"><text class="f ch" x="-172">Chlamydia</text></g>
<g id="n-Flavonifractor" transform="rotate(155)"><text class="f fi" x="-112">Flavonifractor</text></g>
<g id="n-Oscillibacter" transform="rotate(156.5)"><text class="f fi" x="-108">Oscillibacter</text></g>
<g id="n-Ruminococcus" transform="rotate(159)"><text class="f fi" x="-160">Ruminococcus</text></g>
<g id="n-Faecalibacterium" transform="rotate(161)"><text class="f fi" x="-165">Faecalibacterium</text></g>
<g id="n-Gemmiger" transform="rotate(163)"><text class="f fi" x="-167">Gemmiger</text></g>
<g id="n-Anaerofilum" transform="rotate(165)"><text class="f fi" x="-153">Anaerofilum</text></g>
<g id="n-Ruminiclostridium" transform="rotate(167)"><text class="f fi" x="-142">Ruminiclostridium</text></g>
<g id="n-Acetanaerobacterium" transform="rotate(169)"><text class="f fi" x="-140">Acetanaerobacterium</text></g>
<g id="n-Hydrogenoanaerobacterium" transform="rotate(171)"><text class="f fi" x="-133">Hydrogenoanaerobacterium</text></g>
<g id="n-Eubacterium" transform="rotate(173)"><text class="f fi" x="-126">Eubacterium</text></g>
<g id="n-Butyricicoccus" transform="rotate(175.5)"><text class="f fi" x="-122">Butyricicoccus</text></g>
<g id="n-Sporobacter" transform="rotate(178)"><text class="f fi" x="-75">Sporobacter</text></g>
</g>
<g id="clades" fill="none">
<path id="arc-proteobacteria" d="M7 222C22 160 60 95 120 52C175 15 240 2 300 2C340 2 375 6 407 12" stroke="#2e8b89" stroke-width="3"/>
<path id="arc-actinobacteria" d="M443 111C505 132 545 195 505 250" stroke="#7e2c86" stroke-width="2.2"/>
<path id="arc-firmicutes-left" d="M13 245C15 300 60 360 128 391" stroke="#7a3b3b" stroke-width="1.6"/>
<path id="arc-firmicutes-right" d="M488 250C488 320 450 385 398 422" stroke="#7a3b3b" stroke-width="1.6"/>
<path id="arc-bacteroidetes" d="M132 522A254 254 0 0 0 433 533" stroke="#7e9fc0" stroke-width="3"/>
<text class="clade" x="37" y="39" fill="#2e8b89">Proteobacteria</text>
<text class="clade" x="512" y="140" fill="#7e2c86">Actinobacteria</text>
<text class="clade" x="2" y="378" fill="#7a3b3b">Firmicutes</text>
<text class="clade" x="467" y="372" fill="#7a3b3b">Firmicutes</text>
<text class="clade" x="238" y="572" fill="#2f8a76">Bacteroidetes</text>
</g>
<g id="legend" class="leg">
<circle cx="594" cy="247" r="3.6" fill="#7b2f87"/><text x="605" y="251">Actinobacteria</text>
<circle cx="594" cy="264" r="3.6" fill="#3a80c2"/><text x="605" y="268">Bacteroidetes</text>
<circle cx="594" cy="281" r="3.6" fill="#f3c3d1"/><text x="605" y="285">Candidatus_Saccharibacteria</text>
<circle cx="594" cy="298" r="3.6" fill="#a256a6"/><text x="605" y="302">Chlamydiae</text>
<circle cx="594" cy="315" r="3.6" fill="#f08a2e"/><text x="605" y="319">Deferribacteres</text>
<circle cx="594" cy="332" r="3.6" fill="#a0522d"/><text x="605" y="336">Firmicutes</text>
<circle cx="594" cy="349" r="3.6" fill="#3c4fa0"/><text x="605" y="353">Fusobacteria</text>
<circle cx="594" cy="366" r="3.6" fill="#b0b0b0"/><text x="605" y="370">Lentisphaerae</text>
<circle cx="594" cy="383" r="3.6" fill="#1e9a7a"/><text x="605" y="387">Proteobacteria</text>
<circle cx="594" cy="400" r="3.6" fill="#d2691e"/><text x="605" y="404">Spirochaetes</text>
<circle cx="594" cy="417" r="3.6" fill="#7e70b5"/><text x="605" y="421">Synergistetes</text>
<circle cx="594" cy="434" r="3.6" fill="#e7167f"/><text x="605" y="438">Tenericutes</text>
<circle cx="594" cy="451" r="3.6" fill="#222"/><text x="605" y="455">Verrucomicrobia</text>
</g>
</svg>
